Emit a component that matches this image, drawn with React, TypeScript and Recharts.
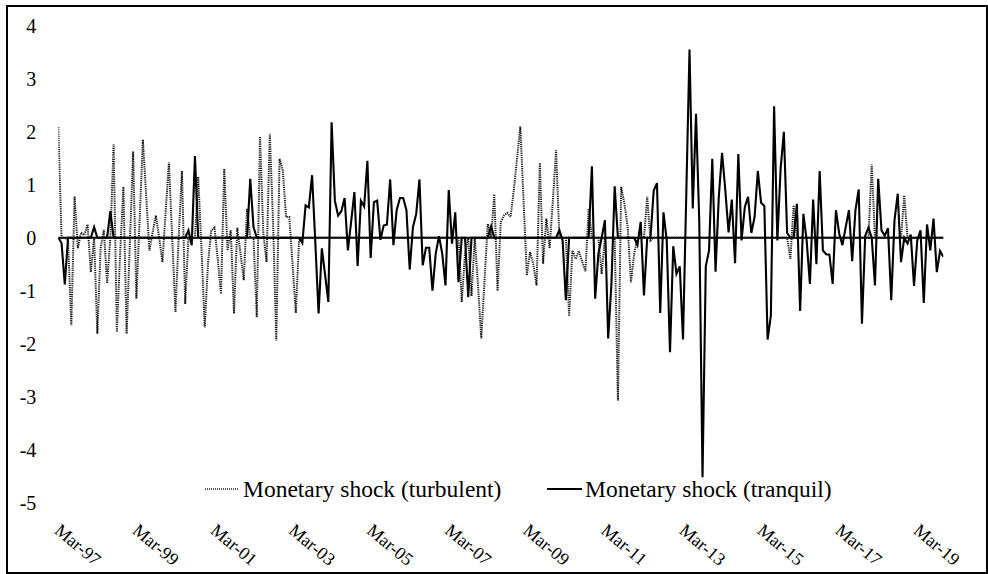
import React from 'react';
import { LineChart, Line, XAxis, YAxis, ReferenceLine, Legend } from 'recharts';

// Monthly monetary shocks, Mar-1997 onward (one row per year, Mar..Feb)
const TURBULENT: number[] = [
  2.09, 0, 0, -0.05, -1.65, 0.78, -0.2, 0.1, 0.05, 0.25, -0.65, 0,
  -1.81, -0.2, 0.15, -0.86, 0, 1.77, -1.78, -0.3, 0.96, -1.81, -0.1, 1.63,
  -1.15, 0.35, 1.85, 0.8, -0.24, 0.1, 0.42, 0, -0.46, 0.5, 1.42, 0,
  -1.4, 0, 1.26, -1.25, 0, 0, 0, 1.15, -0.2, -1.69, -0.5, 0.14,
  0.19, -0.4, -1.06, 1.3, -0.24, 0.14, -1.43, 0.19, -0.3, -0.8, 0.55, 0,
  0, -1.5, 1.91, 0.1, -0.46, 1.96, 0.3, -1.94, 1.49, 1.27, 0.39, 0.39,
  -0.5, -1.42, -0.05, 0, 0, 0, 0, 0, 0, 0, 0, 0,
  0, 0, 0, 0, 0, 0, 0, 0, 0, 0, 0, 0,
  0, 0, 0, 0, 0, 0, 0, 0, 0, 0, 0, 0,
  0, 0, 0, 0, 0, 0, 0, 0, 0, 0, 0, 0,
  0, 0, 0, 0, -1.21, -0.3, 0, -1.1, 0, -0.9, -1.9, -0.8,
  0.26, 0, 0.82, -1.0, 0.3, 0.42, 0.47, 0.39, 0.9, 1.5, 2.1, 0.7,
  -0.71, -0.27, -0.5, -0.9, 1.41, -0.49, 0.36, -0.2, 0.7, 1.65, 0, 0,
  0, -1.48, -0.24, -0.4, -0.25, -0.45, -0.63, 0.55, 0, 0, 0, -0.68,
  0, 0, 0, 0, -3.07, 0.96, 0.64, 0.2, -0.84, -0.3, 0, 0,
  0, 0.77, -0.05, 0, 0, 0, 0, 0, 0, 0, 0, 0,
  0, 0, 0, 0, 0, 0, 0, 0, 0, 0, 0, 0,
  0, 0, 0, 0, 0, 0, 0, 0, 0, 0, 0, 0,
  0, 0, 0, 0, 0, 0, 0, 0, 0, -0.4, 0.61, 0,
  0, 0, 0, 0, 0, 0, 0, 0, 0, 0, 0, 0,
  0, 0, 0, 0, 0, 0, 0, 0, 0, 0, 1.38, 0,
  0, 0, 0, 0, 0, 0, 0, 0, 0.8, 0, 0, 0,
  0, 0, 0, 0, 0, 0, 0, 0, 0,
];

const TRANQUIL: number[] = [
  0, -0.1, -0.88, 0, 0, 0, 0, 0, 0, 0, 0, 0.2,
  0, 0, 0, 0, 0.5, 0, 0, 0, 0, 0, 0, 0,
  0, 0, 0, 0, 0, 0, 0, 0, 0, 0, 0, 0,
  0, 0, 0, 0, 0.14, -0.14, 1.54, 0, 0, 0, 0, 0,
  0, 0, 0, 0, 0, 0, 0, 0, 0, 0, 0, 1.11,
  0.2, 0, 0, 0, 0, 0, 0, 0, 0, 0, 0, 0,
  0, 0, 0, -0.1, 0.61, 0.57, 1.18, -0.1, -1.43, -0.2, -0.7, -1.21,
  2.18, 0.7, 0.42, 0.5, 0.75, -0.24, 0.3, 0.86, -0.53, 0.7, 0.59, 1.45,
  -0.38, 0.67, 0.7, -0.04, 0.23, 0.25, 1.1, -0.14, 0.52, 0.75, 0.75, 0.52,
  -0.6, 0.2, 0.45, 1.1, -0.52, -0.19, -0.19, -1.0, -0.3, 0.03, -0.3, -0.9,
  0.9, -0.11, 0.48, -0.84, 0, 0, -1.12, 0, 0, 0, 0, 0,
  0, 0.21, 0, 0, 0, 0, 0, 0, 0, 0, 0, 0,
  0, 0, 0, 0, 0, 0, 0, 0, 0, 0, 0.14, -0.05,
  -1.18, 0, 0, 0, 0, 0, 0, 0, 1.35, -1.15, -0.3, 0,
  0.33, -1.9, -0.87, 0.97, 0, 0, 0, 0, 0, 0, -0.14, 0.3,
  -1.09, 0, 0, 0.89, 1.03, -1.42, 0.48, -0.05, -2.16, -0.16, -0.68, -0.54,
  -1.92, 0.8, 3.55, 0.55, 2.34, 0.3, -4.52, -0.54, -0.24, 1.49, -0.64, 0.77,
  1.6, 0.9, 0.1, 0.72, -0.48, 1.58, -0.05, 0.58, 0.77, 0.09, 0.39, 1.26,
  0.66, 0.6, -1.92, -1.47, 2.48, -0.05, 1.3, 2.0, 0.09, 0, 0, 0.64,
  -1.38, 0.45, -0.05, -0.87, 0.72, -0.5, 1.26, -0.24, -0.31, -0.32, -0.87, 0.52,
  0.08, -0.14, 0.2, 0.52, -0.44, 0.52, 0.91, -1.62, 0.04, 0.19, 0, -0.9,
  1.11, 0.14, 0.04, 0.18, -1.18, 0.33, 0.83, -0.46, 0, -0.11, 0.06, -0.91,
  -0.05, 0.14, -1.23, 0.25, -0.24, 0.36, -0.65, -0.25, -0.36,
];

const TICK_LABELS: string[] = [
  'Mar-97', 'Mar-99', 'Mar-01', 'Mar-03', 'Mar-05', 'Mar-07',
  'Mar-09', 'Mar-11', 'Mar-13', 'Mar-15', 'Mar-17', 'Mar-19',
];
const TICK_STEP = 24;
const Y_TICKS: number[] = [-5, -4, -3, -2, -1, 0, 1, 2, 3, 4];

const SERIES_NAMES = ['Monetary shock (turbulent)', 'Monetary shock (tranquil)'];

const data = TURBULENT.map((t, i) => ({ i, turbulent: t, tranquil: TRANQUIL[i] }));
const xTicks = TICK_LABELS.map((_, k) => k * TICK_STEP);

const FONT = "'Liberation Serif', 'Times New Roman', serif";
const CHART_W = 978;
const CHART_H = 565;
const DOT_DASH = '1.2 1';

const XTick = (props: any) => {
  const { x, y, payload } = props;
  const label = TICK_LABELS[Math.round(payload.value / TICK_STEP)];
  const ax = x + 3;
  const ay = y + 20;
  return (
    <text
      x={ax}
      y={ay}
      dy="0.68em"
      transform={`rotate(40, ${ax}, ${ay})`}
      textAnchor="start"
      fontSize={18}
      fontFamily={FONT}
      fill="#000"
    >
      {label}
    </text>
  );
};

const LEGEND_ITEMS = [
  { sx: 197, sw: 33, tx: 235, dash: '1 1', w: 1.5, color: '#222' },
  { sx: 539, sw: 35, tx: 577, dash: undefined, w: 2, color: '#000' },
];

const renderLegend = (props: any) => {
  const payload = props.payload || [];
  return (
    <div style={{ position: 'relative', width: CHART_W, height: 0 }}>
      {payload.map((entry: any, k: number) => {
        const idx = SERIES_NAMES.indexOf(entry.value);
        const it = LEGEND_ITEMS[idx >= 0 ? idx : k];
        return (
          <React.Fragment key={entry.value}>
            <svg
              width={it.sw}
              height={6}
              style={{ position: 'absolute', left: it.sx, top: 478.5 }}
            >
              <line
                x1={0}
                y1={3}
                x2={it.sw}
                y2={3}
                stroke={it.color}
                strokeWidth={it.w}
                strokeDasharray={it.dash}
              />
            </svg>
            <div
              style={{
                position: 'absolute',
                left: it.tx,
                top: 471,
                fontFamily: FONT,
                fontSize: 23.5,
                lineHeight: 1,
                whiteSpace: 'nowrap',
                color: '#000',
              }}
            >
              {entry.value}
            </div>
          </React.Fragment>
        );
      })}
    </div>
  );
};

export default function App() {
  return (
    <div>
      <div
        style={{
          position: 'absolute',
          left: 6,
          top: 5,
          width: 982,
          height: 569,
          border: '2px solid #000',
          boxSizing: 'border-box',
        }}
      />
      <div style={{ position: 'absolute', left: 8, top: 7, width: CHART_W, height: CHART_H }}>
        <LineChart
          width={CHART_W}
          height={CHART_H}
          data={data}
          margin={{ top: 18.7, right: 42.7, bottom: 9.2, left: 0 }}
        >
          <XAxis
            type="number"
            dataKey="i"
            domain={[0, TURBULENT.length - 1]}
            ticks={xTicks}
            interval={0}
            tick={<XTick />}
            tickLine={false}
            axisLine={false}
            tickSize={0}
            tickMargin={0}
            height={60}
            allowDataOverflow
          />
          <YAxis
            type="number"
            domain={[-5, 4]}
            ticks={Y_TICKS}
            interval={0}
            width={50.3}
            tickLine={false}
            axisLine={false}
            tickSize={0}
            tickMargin={22}
            tick={{ fontSize: 20, fill: '#000', fontFamily: FONT }}
          />
          <ReferenceLine y={0} stroke="#000" strokeWidth={2} ifOverflow="extendDomain" />
          <Legend
            verticalAlign="middle"
            align="center"
            layout="horizontal"
            itemSorter={null as any}
            wrapperStyle={{ left: 0, top: 0, width: CHART_W, height: 0 }}
            content={renderLegend}
          />
          <Line
            type="linear"
            dataKey="turbulent"
            name={SERIES_NAMES[0]}
            stroke="#1a1a1a"
            strokeWidth={2}
            strokeDasharray={DOT_DASH}
            dot={false}
            activeDot={false}
            legendType="line"
            isAnimationActive={false}
          />
          <Line
            type="linear"
            dataKey="tranquil"
            name={SERIES_NAMES[1]}
            stroke="#000"
            strokeWidth={2.1}
            dot={false}
            activeDot={false}
            legendType="line"
            isAnimationActive={false}
          />
        </LineChart>
      </div>
    </div>
  );
}
